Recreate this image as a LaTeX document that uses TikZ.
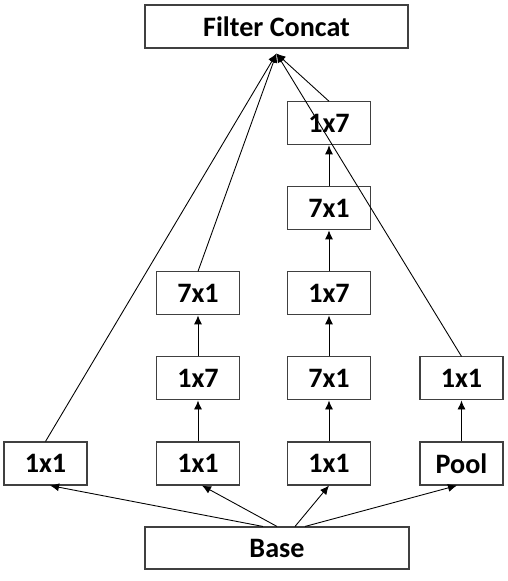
\documentclass[tikz,border=0pt]{standalone}
\usepackage{fontspec}
\setmainfont{Carlito}
\usetikzlibrary{positioning, arrows.meta}

\begin{document}
\begin{tikzpicture}[
    every node/.style={draw=black!75, line width=0.6pt, minimum width=1.66cm, minimum height=0.86cm, inner sep=0pt, font=\fontsize{16}{18}\selectfont\bfseries},
    every path/.style={line width=0.5pt, black},
    >={Latex[length=1.8mm, width=1.6mm]}, % punta pequeña
    node distance=0.82cm
]
\useasboundingbox (0,0) rectangle (10.16,11.62);

% Nodos
\node[minimum width=5.28cm, minimum height=0.84cm] (base) at (5.54,0.66) {Base};
\node[minimum width=5.26cm] (concat) at (5.53,11.09) {Filter Concat};
\coordinate (top) at ([yshift=-0.1cm]concat.south);

\node (a1) at (0.91,2.35) {1x1};
\node (b1) at (3.96,2.35) {1x1};
\node (b2) [above=of b1] {1x7};
\node (b3) [above=of b2] {7x1};
\node (c1) at (6.58,2.35) {1x1};
\node (c2) [above=of c1] {7x1};
\node (c3) [above=of c2] {1x7};
\node (c4) [above=of c3] {7x1};
\node (c5) [above=of c4] {1x7};
\node (d1) at (9.23,2.35) {Pool};
\node (d2) [above=of d1] {1x1};

% Flechas desde la base
\draw[->] ([xshift=-0.28cm]base.north) -- ([xshift=0.09cm]a1.south);
\draw[->] (base.north) -- ([xshift=0.08cm]b1.south);
\draw[->] ([xshift=0.36cm]base.north) -- (c1.south);
\draw[->] ([xshift=0.56cm]base.north) -- ([xshift=-0.09cm]d1.south);

% Flechas verticales
\draw[->] (b1) -- (b2);
\draw[->] (b2) -- (b3);
\draw[->] (c1) -- (c2);
\draw[->] (c2) -- (c3);
\draw[->] (c3) -- (c4);
\draw[->] (c4) -- (c5);
\draw[->] (d1) -- (d2);

% Flechas hacia Filter Concat
\draw[->] (a1.north) -- (top);
\draw[->] (b3.north) -- (top);
\draw[->] (c5.north) -- (top);
\draw[->] (d2.north) -- (top);

\end{tikzpicture}
\end{document}
